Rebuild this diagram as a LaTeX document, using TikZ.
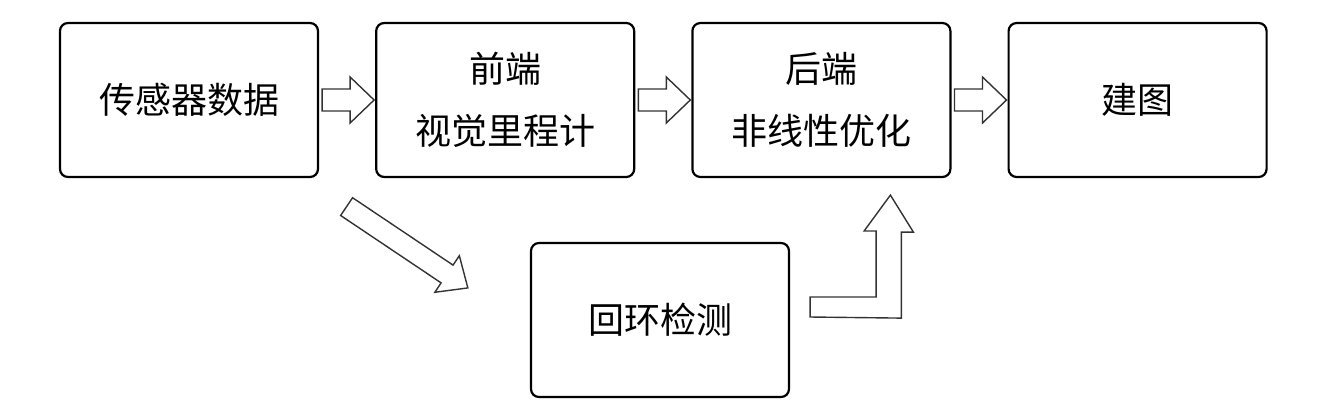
\documentclass[tikz,border=0pt]{standalone}
\usepackage{fontspec}
\usetikzlibrary{calc,positioning}
\newfontfamily\cjk{Noto Sans CJK SC}
\definecolor{ink}{HTML}{000000}
\definecolor{arrowink}{HTML}{333333}

\begin{document}
\begin{tikzpicture}[
    x=1pt, y=-1pt,
    font=\cjk\fontsize{36}{62}\selectfont,
    stage/.style={draw=ink, line width=2.2pt, rounded corners=8pt, fill=white,
        minimum width=258pt, minimum height=154pt, inner sep=0pt, align=center},
    blockarrow/.style={draw=arrowink, line width=1.4pt, fill=white, line join=miter}
]
\useasboundingbox (0,0) rectangle (1332,408);

% Pipeline stages (pixel-like coordinates, y grows downward).
\node[stage] (sensor) at (189,100) {传感器数据};
\node[stage, right=56pt of sensor] (frontend) {前端\\视觉里程计};
\node[stage, right=56pt of frontend] (backend) {后端\\非线性优化};
\node[stage, right=56pt of backend] (mapping) {建图};
\node[stage] (loopdet) at (660,320) {回环检测};

% Hollow arrows between neighbouring stages.
\foreach \a/\b in {sensor/frontend, frontend/backend, backend/mapping} {
    \draw[blockarrow] ($(\a.east)+(3,-11)$) -- ++(28,0) -- ++(0,-12)
        -- ($(\b.west)+(-1,0)$) -- ($(\a.east)+(31,23)$) -- ++(0,-12)
        -- ++(-28,0) -- cycle;
}

% Sensor data down into loop detection.
\coordinate (looptail) at ($(sensor.south east)+(27.5,28.5)$);
\draw[blockarrow, shift={(looptail)}, rotate=-33.85]
    (0,-10.7) -- (121,-10.7) -- (121,-22) -- (146,0)
    -- (121,22) -- (121,10.7) -- (0,10.7) -- cycle;

% Loop detection back up into the back end.
\draw[blockarrow] ($(loopdet.east)+(20,-3)$) -- ++(0,-20) -- ++(66,0)
    -- ++(0,-66) -- ++(-12,0) -- ($(backend.south)+(69,17)$)
    -- ++(23,37) -- ++(-12,0) -- ++(0,86) -- cycle;

\end{tikzpicture}
\end{document}
